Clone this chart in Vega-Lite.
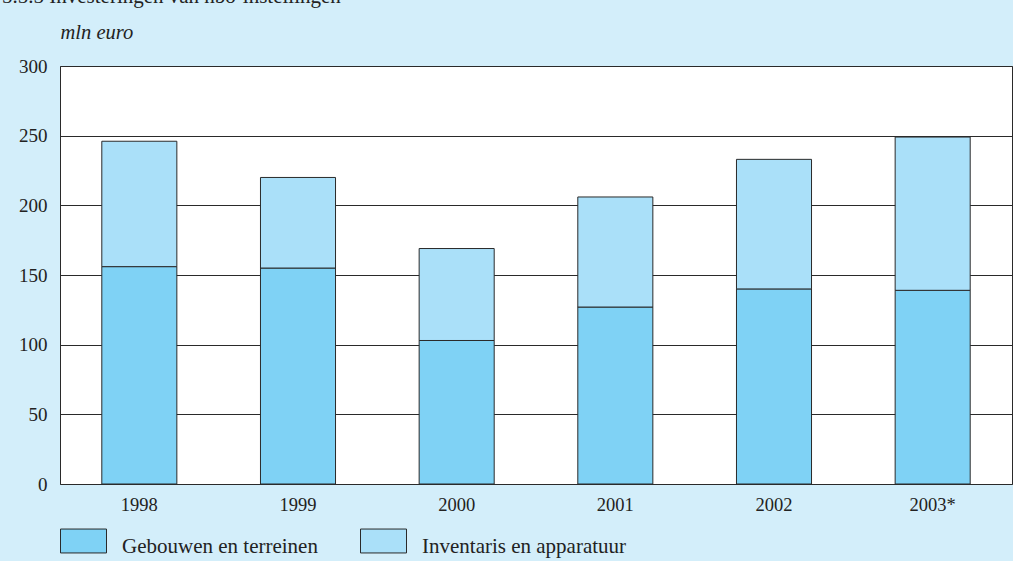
{
  "$schema": "https://vega.github.io/schema/vega-lite/v6.json",
  "autosize": "none",
  "width": 952,
  "height": 418,
  "padding": {"left": 60, "top": 66, "right": 1, "bottom": 77},
  "background": "#d3eefa",
  "title": {
    "text": "5.5.5 Investeringen van hbo-instellingen",
    "anchor": "start",
    "frame": "group",
    "font": "Liberation Serif",
    "fontSize": 21,
    "fontWeight": "normal",
    "color": "#222222",
    "baseline": "alphabetic",
    "offset": 0,
    "dx": -58,
    "dy": 2
  },
  "data": {
    "values": [
      {"jaar": "1998", "soort": "Gebouwen en terreinen", "volgorde": 1, "waarde": 156},
      {"jaar": "1998", "soort": "Inventaris en apparatuur", "volgorde": 2, "waarde": 90},
      {"jaar": "1999", "soort": "Gebouwen en terreinen", "volgorde": 1, "waarde": 155},
      {"jaar": "1999", "soort": "Inventaris en apparatuur", "volgorde": 2, "waarde": 65},
      {"jaar": "2000", "soort": "Gebouwen en terreinen", "volgorde": 1, "waarde": 103},
      {"jaar": "2000", "soort": "Inventaris en apparatuur", "volgorde": 2, "waarde": 66},
      {"jaar": "2001", "soort": "Gebouwen en terreinen", "volgorde": 1, "waarde": 127},
      {"jaar": "2001", "soort": "Inventaris en apparatuur", "volgorde": 2, "waarde": 79},
      {"jaar": "2002", "soort": "Gebouwen en terreinen", "volgorde": 1, "waarde": 140},
      {"jaar": "2002", "soort": "Inventaris en apparatuur", "volgorde": 2, "waarde": 93},
      {"jaar": "2003*", "soort": "Gebouwen en terreinen", "volgorde": 1, "waarde": 139},
      {"jaar": "2003*", "soort": "Inventaris en apparatuur", "volgorde": 2, "waarde": 110}
    ]
  },
  "mark": {"type": "bar", "stroke": "#2a2a2a", "strokeWidth": 1},
  "encoding": {
    "x": {
      "field": "jaar",
      "type": "ordinal",
      "sort": null,
      "scale": {"paddingInner": 0.527, "paddingOuter": 0.2635},
      "axis": {
        "title": null,
        "labelAngle": 0,
        "ticks": false,
        "labelPadding": 11,
        "labelFontSize": 18.5,
        "domain": false
      }
    },
    "y": {
      "field": "waarde",
      "type": "quantitative",
      "stack": "zero",
      "scale": {"domain": [0, 300], "nice": false},
      "axis": {
        "values": [0, 50, 100, 150, 200, 250, 300],
        "title": "mln euro",
        "titleAngle": 0,
        "titleAlign": "left",
        "titleBaseline": "alphabetic",
        "titleX": 0,
        "titleY": -28,
        "titleFont": "Liberation Serif",
        "titleFontStyle": "italic",
        "titleFontWeight": "normal",
        "titleFontSize": 20.5,
        "titleColor": "#222222",
        "ticks": false,
        "domain": false,
        "labelPadding": 13,
        "labelFontSize": 19,
        "grid": true
      }
    },
    "color": {
      "field": "soort",
      "type": "nominal",
      "scale": {
        "domain": ["Gebouwen en terreinen", "Inventaris en apparatuur"],
        "range": ["#7fd2f5", "#aae0f9"]
      },
      "legend": {
        "title": null,
        "orient": "none",
        "direction": "horizontal",
        "columns": 2,
        "legendX": 0,
        "legendY": 457,
        "symbolType": "M-1,-0.77L1,-0.77L1,0.27L-1,0.27Z",
        "symbolSize": 2116,
        "symbolStrokeColor": "#2a2a2a",
        "symbolStrokeWidth": 1,
        "symbolOpacity": 1,
        "labelBaseline": "middle",
        "labelOffset": 15,
        "labelLimit": 400,
        "columnPadding": 40,
        "labelFont": "Liberation Serif",
        "labelFontSize": 21,
        "labelColor": "#222222"
      }
    },
    "order": {"field": "volgorde", "type": "quantitative"}
  },
  "config": {
    "view": {"stroke": "#2a2a2a", "strokeWidth": 1, "fill": "#ffffff"},
    "axis": {
      "labelFont": "Liberation Serif",
      "labelColor": "#222222",
      "gridColor": "#2a2a2a",
      "gridOpacity": 1,
      "gridWidth": 1
    }
  }
}
